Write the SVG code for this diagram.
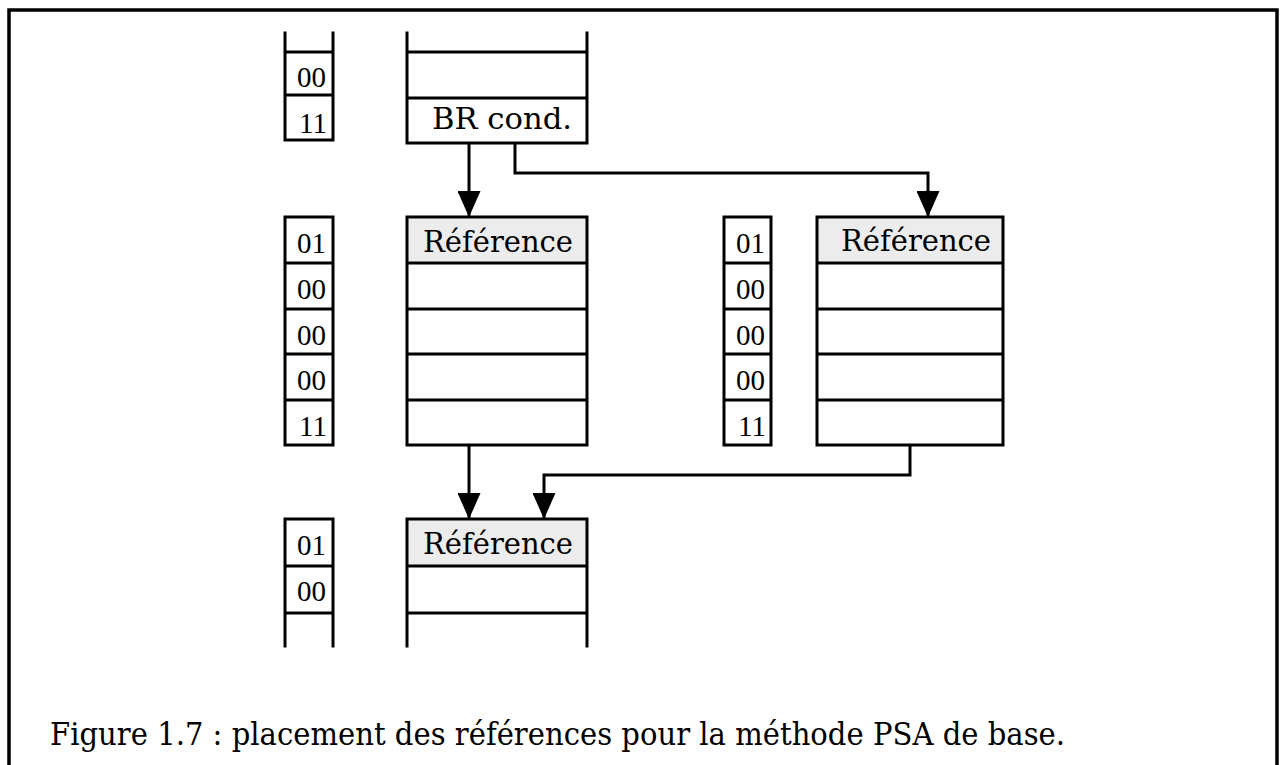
<svg xmlns="http://www.w3.org/2000/svg" width="1286" height="765" viewBox="0 0 1286 765">
<style>
.ln{stroke:#000;stroke-width:3;fill:none;stroke-linecap:square}
.cn{stroke:#000;stroke-width:3;fill:none}
.hd{fill:#ececec;stroke:none}
.t{font-family:"DejaVu Serif","Liberation Serif",serif;font-size:29px;fill:#000}
.n{font-family:"Liberation Serif","DejaVu Serif",serif;font-size:29px;fill:#000;text-anchor:end}
.cap{font-family:"DejaVu Serif","Liberation Serif",serif;font-size:32px;fill:#000}
</style>
<defs>
<marker id="ah" viewBox="0 0 26 23" refX="26" refY="11.5" markerWidth="26" markerHeight="23" orient="auto" markerUnits="userSpaceOnUse">
<path d="M0,0 L26,11.5 L0,23 z" fill="#000"/>
</marker>
</defs>
<rect width="1286" height="765" fill="#fff"/>
<path d="M9,766 V10 H1277 V766" fill="none" stroke="#000" stroke-width="3.5"/>

<g id="top-bits">
<path class="ln" d="M285,33 V140 M333,33 V140 M285,52 H333 M285,95 H333 M285,140 H333"/>
<text class="n" x="326" y="87">00</text>
<text class="n" x="327" y="133">11</text>
</g>
<g id="top-block">
<path class="ln" d="M407,33 V143 M587,33 V143 M407,52 H587 M407,98 H587 M407,143 H587"/>
<text class="t" x="432" y="129" textLength="140" lengthAdjust="spacingAndGlyphs">BR cond.</text>
</g>

<g id="mid-left-bits">
<path class="ln" d="M285,217 H333 V445 H285 Z M285,263 H333 M285,309 H333 M285,354 H333 M285,400 H333"/>
<text class="n" x="326" y="253">01</text>
<text class="n" x="326" y="299">00</text>
<text class="n" x="326" y="345">00</text>
<text class="n" x="326" y="390">00</text>
<text class="n" x="327" y="436">11</text>
</g>
<g id="mid-left-block">
<rect class="hd" x="408" y="218" width="178" height="44"/>
<path class="ln" d="M407,217 H587 V445 H407 Z M407,263 H587 M407,309 H587 M407,354 H587 M407,400 H587"/>
<text class="t" x="423" y="252" textLength="150" lengthAdjust="spacingAndGlyphs">Référence</text>
</g>

<g id="mid-right-bits">
<path class="ln" d="M724,217 H771 V445 H724 Z M724,263 H771 M724,309 H771 M724,354 H771 M724,400 H771"/>
<text class="n" x="765" y="253">01</text>
<text class="n" x="765" y="299">00</text>
<text class="n" x="765" y="345">00</text>
<text class="n" x="765" y="390">00</text>
<text class="n" x="766" y="436">11</text>
</g>
<g id="mid-right-block">
<rect class="hd" x="818" y="218" width="184" height="44"/>
<path class="ln" d="M817,217 H1003 V445 H817 Z M817,263 H1003 M817,309 H1003 M817,354 H1003 M817,400 H1003"/>
<text class="t" x="841" y="251" textLength="150" lengthAdjust="spacingAndGlyphs">Référence</text>
</g>

<g id="bottom-bits">
<path class="ln" d="M285,519 V646 M333,519 V646 M285,519 H333 M285,566 H333 M285,613 H333"/>
<text class="n" x="326" y="555">01</text>
<text class="n" x="326" y="601">00</text>
</g>
<g id="bottom-block">
<rect class="hd" x="408" y="520" width="178" height="45"/>
<path class="ln" d="M407,519 V646 M587,519 V646 M407,519 H587 M407,566 H587 M407,613 H587"/>
<text class="t" x="423" y="554" textLength="150" lengthAdjust="spacingAndGlyphs">Référence</text>
</g>

<g id="connectors">
<path class="cn" d="M469,143 V217" marker-end="url(#ah)"/>
<path class="cn" d="M515,143 V173 H928 V217" marker-end="url(#ah)"/>
<path class="cn" d="M469,445 V519" marker-end="url(#ah)"/>
<path class="cn" d="M910,445 V475 H544 V519" marker-end="url(#ah)"/>
</g>

<text class="cap" x="50" y="745" textLength="1015" lengthAdjust="spacingAndGlyphs">Figure 1.7 : placement des références pour la méthode PSA de base.</text>
</svg>
